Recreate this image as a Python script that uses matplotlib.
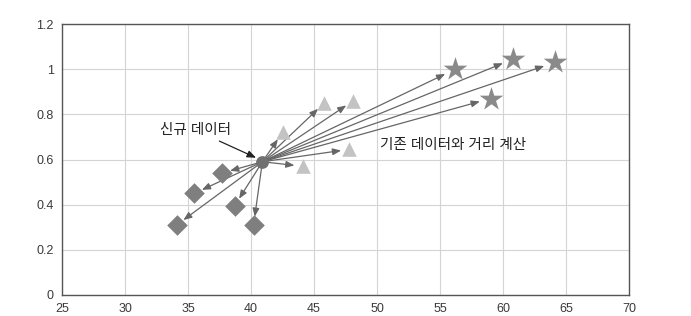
import matplotlib
matplotlib.use("Agg")
import matplotlib.pyplot as plt

plt.rcParams['font.family'] = ['Liberation Sans', 'Noto Sans CJK KR', 'DejaVu Sans']

# new data point
new_x, new_y = 40.9, 0.59

# existing data (three groups)
dia_x = [37.7, 35.5, 34.1, 38.7, 40.2]
dia_y = [0.54, 0.45, 0.31, 0.395, 0.31]
tri_x = [42.5, 44.1, 45.8, 48.1, 47.8]
tri_y = [0.72, 0.57, 0.85, 0.86, 0.645]
star_x = [56.2, 60.8, 64.1, 59.0]
star_y = [1.0, 1.045, 1.03, 0.87]

x_ticks = [25, 30, 35, 40, 45, 50, 55, 60, 65, 70]
y_ticks = [0, 0.2, 0.4, 0.6, 0.8, 1, 1.2]
y_labels = ['0', '0.2', '0.4', '0.6', '0.8', '1', '1.2']

fig = plt.figure(figsize=(6.91, 3.16), dpi=100)
ax = fig.add_axes([0.0897, 0.0665, 0.8208, 0.8575])

ax.set_xlim(25, 70)
ax.set_ylim(0, 1.2)
ax.set_xticks(x_ticks)
ax.set_yticks(y_ticks)
ax.set_yticklabels(y_labels)
ax.grid(True, color='#d4d4d4', lw=0.8)
ax.set_axisbelow(True)
for s in ax.spines.values():
    s.set_color('#555555')
    s.set_linewidth(1.0)
ax.tick_params(length=0, labelsize=9, colors='#3a3a3a', pad=6)

arrow_kw = dict(arrowstyle='-|>,head_length=0.5,head_width=0.2', color='#666666',
                lw=0.9, shrinkA=0)
for xs, ys, shrink in [(dia_x, dia_y, 6), (tri_x, tri_y, 6), (star_x, star_y, 8)]:
    for x, y in zip(xs, ys):
        ax.annotate('', xy=(x, y), xytext=(new_x, new_y),
                    arrowprops=dict(arrow_kw, shrinkB=shrink), zorder=2)

ax.scatter(dia_x, dia_y, marker='D', s=110, color='#7f7f7f', zorder=3, lw=0)
ax.scatter(tri_x, tri_y, marker='^', s=110, color='#c3c3c3', zorder=3, lw=0)
ax.scatter(star_x, star_y, marker='*', s=320, color='#8a8a8a', zorder=3, lw=0)
ax.scatter([new_x], [new_y], marker='o', s=85, color='#707070', zorder=4, lw=0)

ax.annotate('신규 데이터', xy=(new_x - 0.2, new_y + 0.01), xytext=(38.4, 0.73),
            ha='right', va='center', fontsize=10.5, color='#222222',
            arrowprops=dict(arrowstyle='-|>,head_length=0.5,head_width=0.2',
                            color='#222222', lw=0.9, shrinkA=2, shrinkB=3))
ax.text(50.2, 0.665, '기존 데이터와 거리 계산', ha='left', va='center',
        fontsize=10.5, color='#222222')

fig.savefig('out.png', dpi=100)
